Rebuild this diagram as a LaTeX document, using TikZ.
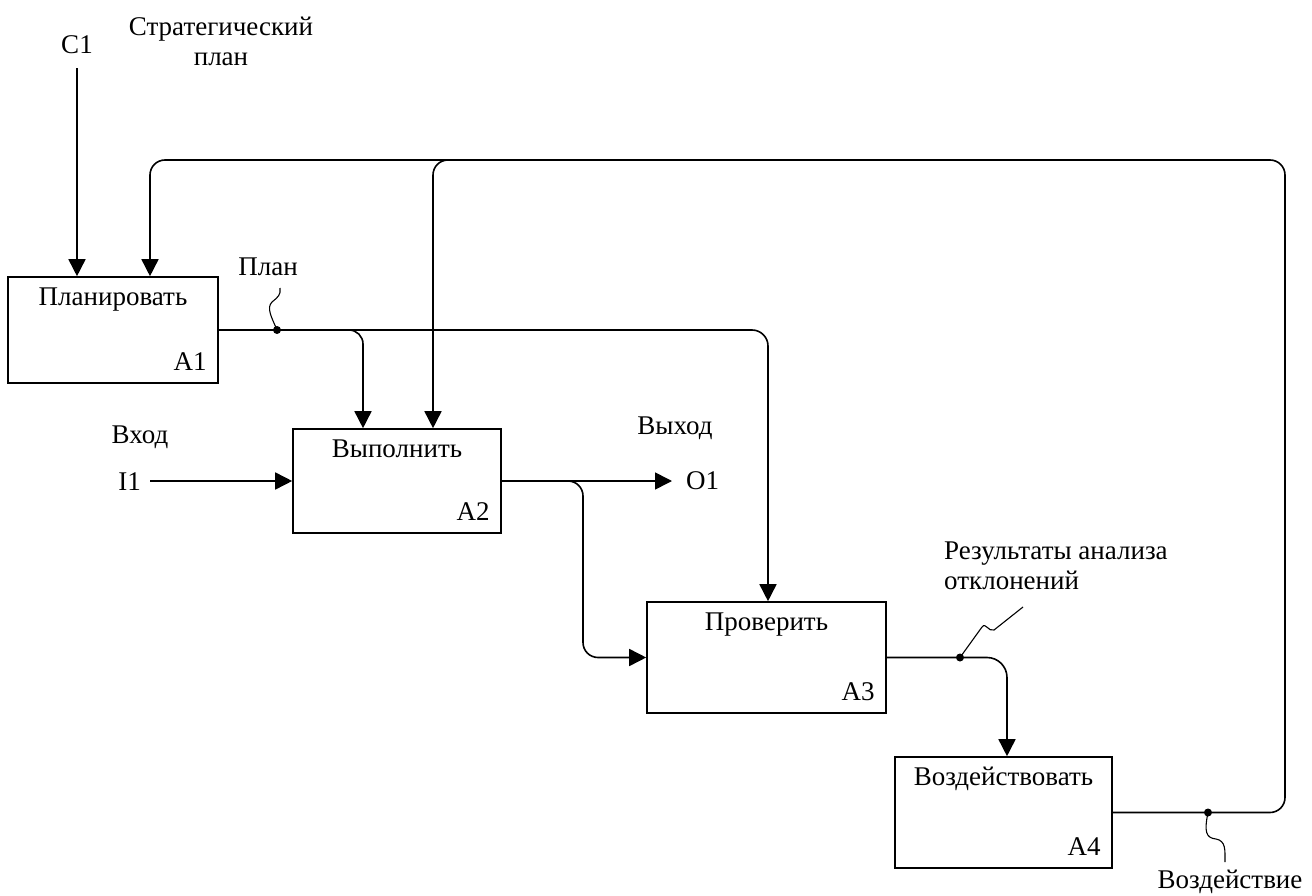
\documentclass[tikz,border=0pt]{standalone}
\usepackage{fontspec}
\setmainfont{Liberation Serif}
\usetikzlibrary{arrows.meta, positioning, calc}
\tikzset{
  funcbox/.style={rectangle, draw=black, line width=1.6pt, inner sep=0pt},
  boxtitle/.style={font=\fontsize{27}{30}\selectfont, inner sep=0pt},
  boxnum/.style={font=\fontsize{27}{30}\selectfont, inner sep=0pt},
  lbl/.style={font=\fontsize{27}{30}\selectfont, align=center, inner sep=0pt},
  flow/.style={line width=1.6pt, -{Triangle[length=17pt,width=17pt]}},
  squig/.style={line width=1.1pt},
  jdot/.style={fill=black}
}
% блок: имя, x, y, ширина, высота, название, номер
\newcommand{\funcblock}[7]{
    \node[funcbox, minimum width=#4pt, minimum height=#5pt] (#1) at (#2,#3) {};
    \node[boxtitle, below=11pt of #1.north] (#1t) {#6};
    \node[boxnum, above left=13pt and 12pt of #1.south east] (#1n) {#7};
}

\begin{document}
\begin{tikzpicture}[x=1pt, y=-1pt]
    \useasboundingbox (0,0) rectangle (1312,896);

    % 1. Блоки
    \funcblock{A1}{113}{330}{210}{106}{Планировать}{A1}
    \funcblock{A2}{397}{481}{208}{104}{Выполнить}{A2}
    \funcblock{A3}{766.5}{657.5}{239}{111}{Проверить}{A3}
    \funcblock{A4}{1003.5}{812.5}{217}{111}{Воздействовать}{A4}

    % 2. Подписи стрелок
    \node[lbl] (C1) at (77,45) {C1};
    \node[lbl] (strat) at (221,41) {Стратегический\\план};
    \node[lbl] (planL) at (268,267) {План};
    \node[lbl] (inL) at (140,437) {Вход};
    \node[lbl, anchor=east] (I1) at (141,482) {I1};
    \node[lbl] (outL) at (675,428) {Выход};
    \node[lbl, anchor=west] (O1) at (686,481) {O1};
    \node[lbl, align=left, anchor=north west] (devL) at (944,542) {Результаты анализа\\отклонений};
    \node[lbl] (actL) at (1230,882) {Воздействие};

    % Точки ветвления
    \coordinate (fbR) at (1285,160);
    \coordinate (fbL) at (150,160);
    \coordinate (fbA2) at (433,160);
    \coordinate (fbS) at (480,160);
    \coordinate (act) at (1208,812.5);
    \coordinate (plan) at (277,330);
    \coordinate (pl2) at (363,330);
    \coordinate (pl3) at (768,330);
    \coordinate (br23) at (583,481);
    \coordinate (dev) at (960,657.5);
    \coordinate (br34) at (1007,657.5);

    % 3. Управление
    \draw[flow] ([yshift=-14pt]C1.south) -- (C1.south |- A1.north);

    % Обратная связь от A4
    \draw[flow, rounded corners=15pt] (A4.east) -- (fbR |- A4.east) -- (fbR) -- (fbL) -- (fbL |- A1.north);
    \draw[flow, rounded corners=15pt] (fbS) -- (fbA2) -- (fbA2 |- A2.north);
    \fill[jdot] (act) circle (4pt);
    \draw[squig] (act) .. controls (1204,832) and (1206,838) .. (1216,839) .. controls (1226,841) and (1225,850) .. (1225,862);

    % План
    \draw[flow, rounded corners=16pt] (A1.east) -- (pl3) -- (pl3 |- A3.north);
    \draw[flow, rounded corners=14pt] (plan) -- (pl2) -- (pl2 |- A2.north);
    \fill[jdot] (plan) circle (4pt);
    \draw[squig] (plan) .. controls (272,318) and (266,308) .. (272,302) .. controls (278,297) and (281,295) .. (280,288);

    % 4. Вход и выход
    \draw[flow] (I1.east |- A2.west) ++(9,0) -- (A2.west);
    \draw[flow] (A2.east) -- ([xshift=-14pt]O1.west);
    \draw[flow, rounded corners=15pt] (A2.east) -- (br23) -- (br23 |- A3.west) -- (A3.west);

    % Результаты анализа
    \draw[flow, rounded corners=20pt] (A3.east) -- (br34) -- (br34 |- A4.north);
    \fill[jdot] (dev) circle (4pt);
    \draw[squig] (dev) -- (982,627) .. controls (986,622) and (988,632) .. (994,630) -- (1023,607);

\end{tikzpicture}
\end{document}
